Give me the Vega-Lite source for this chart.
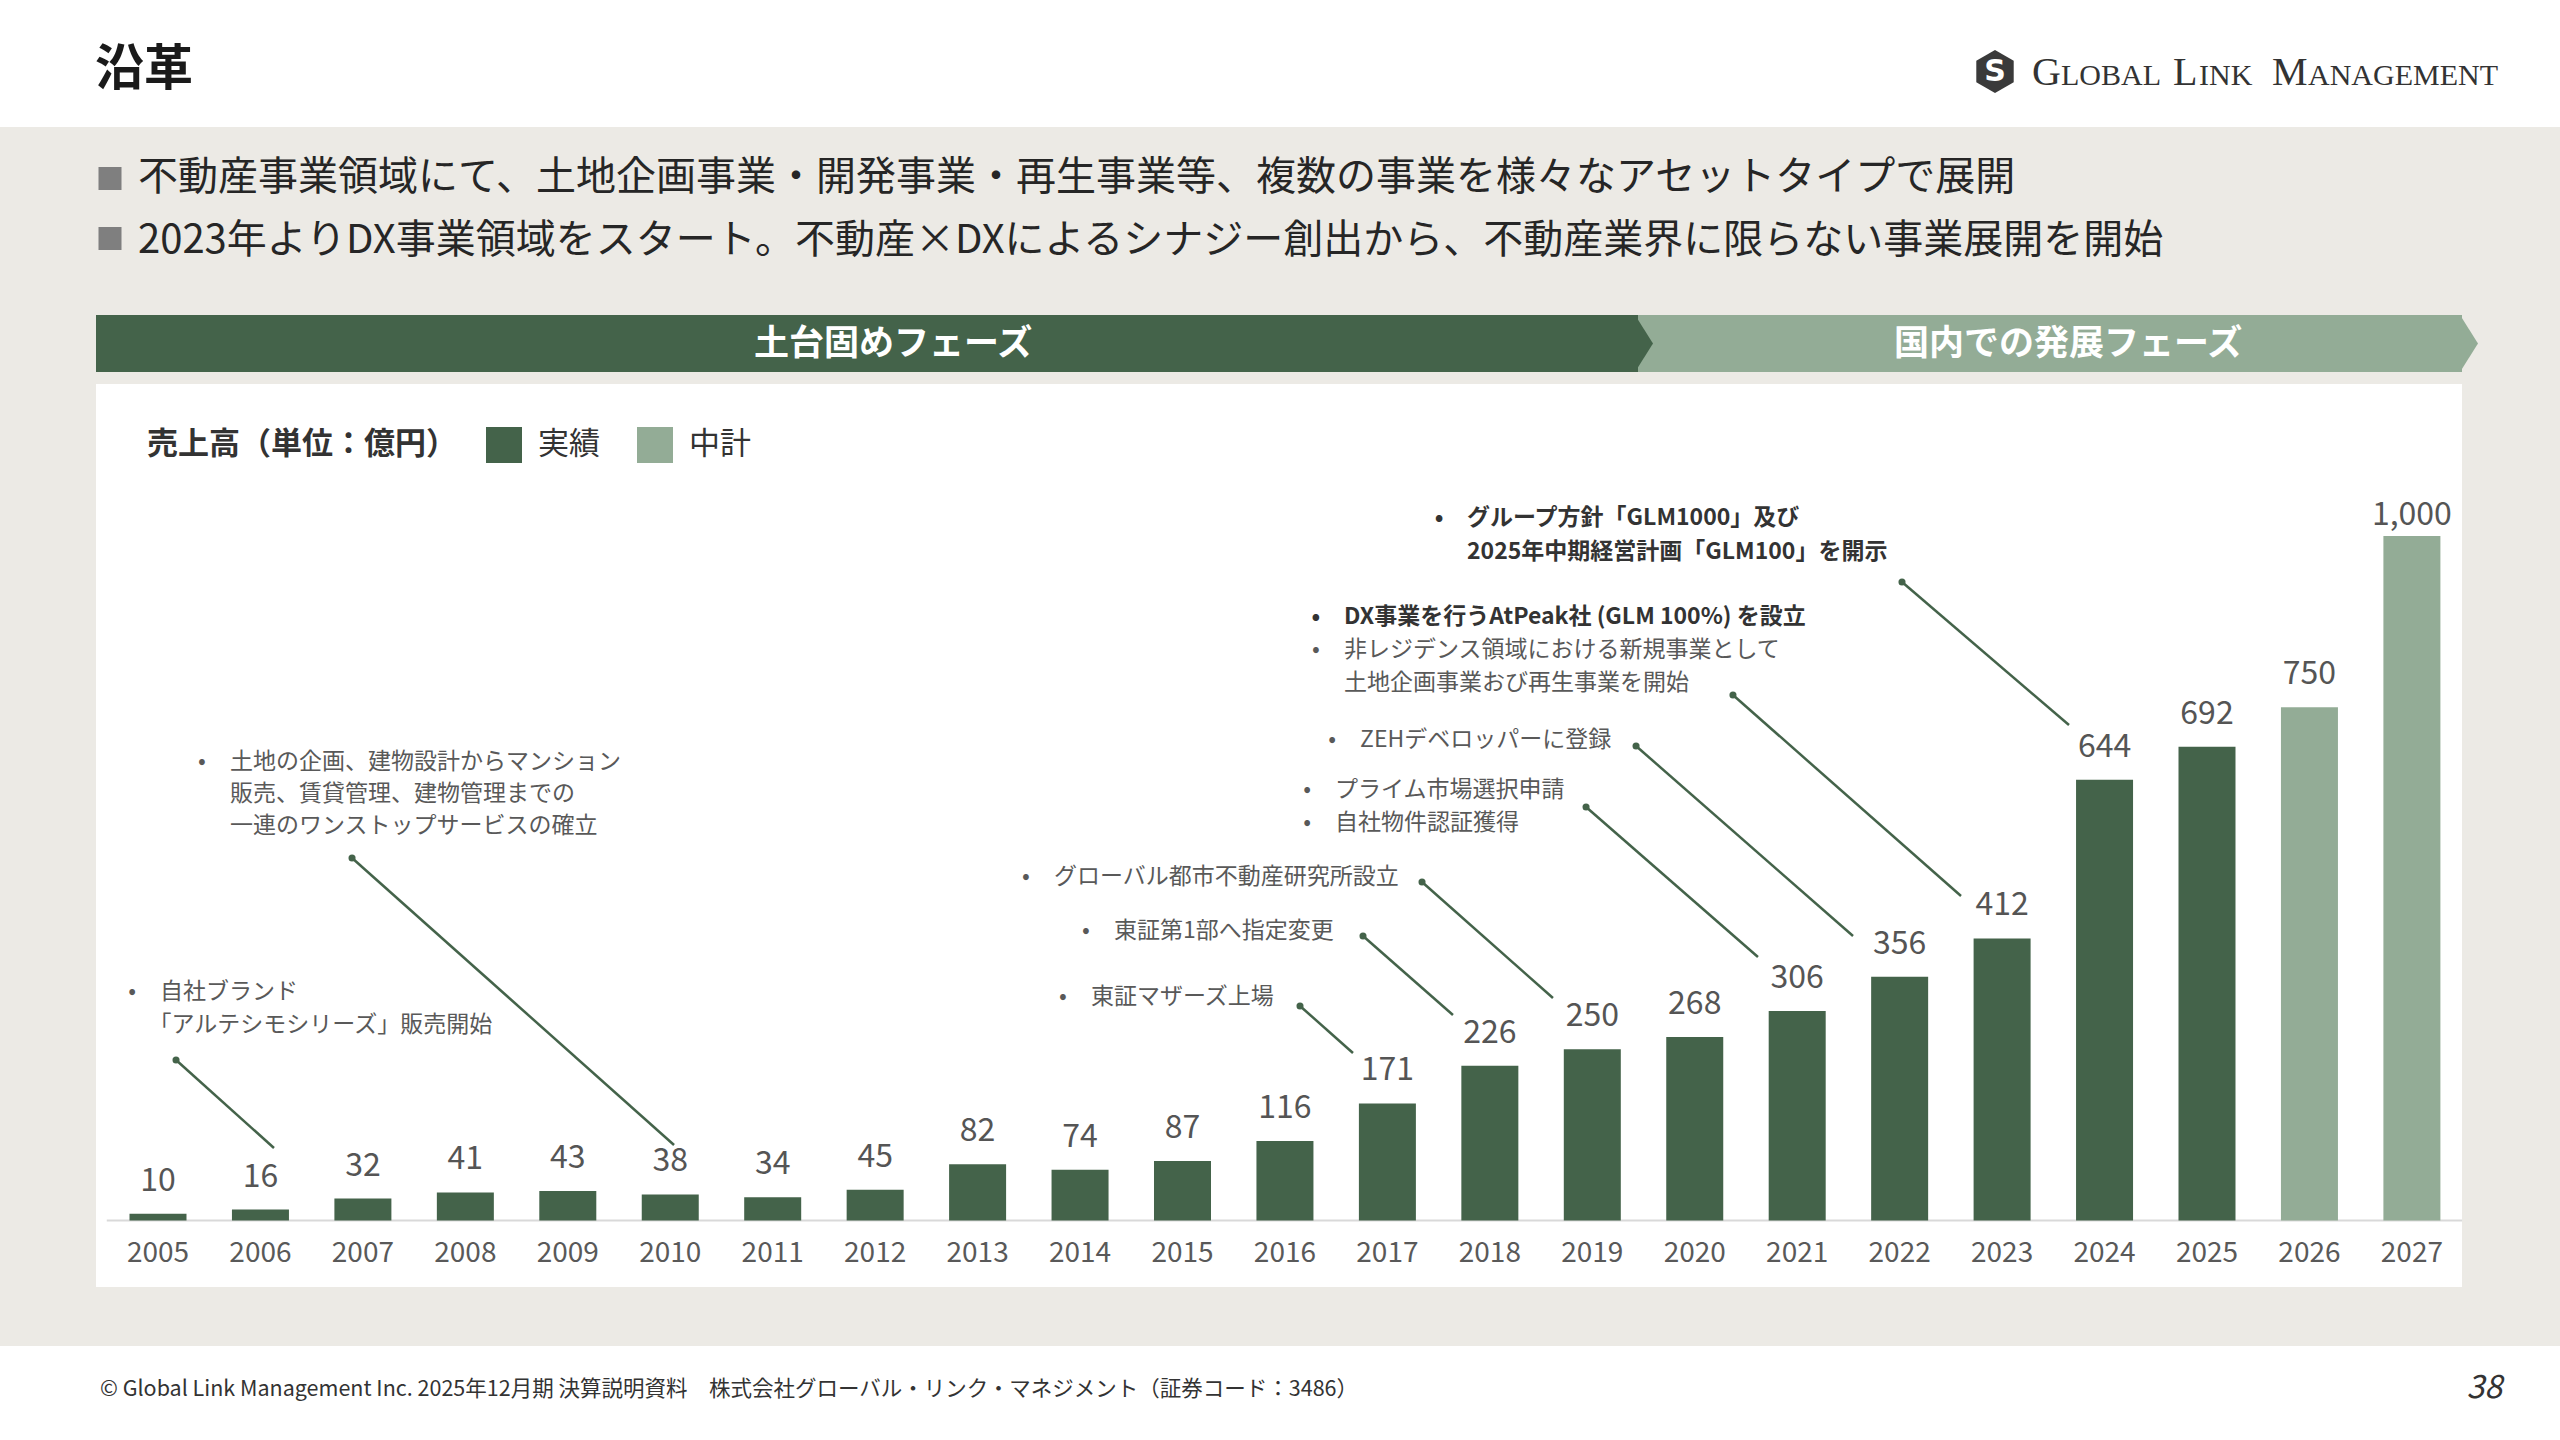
{
  "$schema": "https://vega.github.io/schema/vega-lite/v6.json",
  "width": 2560,
  "height": 1440,
  "autosize": "none",
  "padding": 0,
  "background": "#ECEAE5",
  "config": {"view": {"stroke": null}, "font": "Noto Sans CJK JP", "scale": {"continuousPadding": 0}},
  "datasets": {
    "sales": [
      {"year": 2005, "value": 10, "kind": "実績"},
      {"year": 2006, "value": 16, "kind": "実績"},
      {"year": 2007, "value": 32, "kind": "実績"},
      {"year": 2008, "value": 41, "kind": "実績"},
      {"year": 2009, "value": 43, "kind": "実績"},
      {"year": 2010, "value": 38, "kind": "実績"},
      {"year": 2011, "value": 34, "kind": "実績"},
      {"year": 2012, "value": 45, "kind": "実績"},
      {"year": 2013, "value": 82, "kind": "実績"},
      {"year": 2014, "value": 74, "kind": "実績"},
      {"year": 2015, "value": 87, "kind": "実績"},
      {"year": 2016, "value": 116, "kind": "実績"},
      {"year": 2017, "value": 171, "kind": "実績"},
      {"year": 2018, "value": 226, "kind": "実績"},
      {"year": 2019, "value": 250, "kind": "実績"},
      {"year": 2020, "value": 268, "kind": "実績"},
      {"year": 2021, "value": 306, "kind": "実績"},
      {"year": 2022, "value": 356, "kind": "実績"},
      {"year": 2023, "value": 412, "kind": "実績"},
      {"year": 2024, "value": 644, "kind": "実績"},
      {"year": 2025, "value": 692, "kind": "実績"},
      {"year": 2026, "value": 750, "kind": "中計"},
      {"year": 2027, "value": 1000, "kind": "中計"}
    ],
    "notes": [
      {"year_at": 2005.02, "value_at": 333.8, "t": "自社ブランド", "b": true, "em": false},
      {"year_at": 2004.908, "value_at": 285.6, "t": "「アルテシモシリーズ」販売開始", "b": false, "em": false},
      {"year_at": 2005.703, "value_at": 669.8, "t": "土地の企画、建物設計からマンション", "b": true, "em": false},
      {"year_at": 2005.703, "value_at": 623.1, "t": "販売、賃貸管理、建物管理までの", "b": false, "em": false},
      {"year_at": 2005.703, "value_at": 576.3, "t": "一連のワンストップサービスの確立", "b": false, "em": false},
      {"year_at": 2014.107, "value_at": 326.5, "t": "東証マザーズ上場", "b": true, "em": false},
      {"year_at": 2014.331, "value_at": 422.9, "t": "東証第1部へ指定変更", "b": true, "em": false},
      {"year_at": 2013.746, "value_at": 501.8, "t": "グローバル都市不動産研究所設立", "b": true, "em": false},
      {"year_at": 2016.489, "value_at": 628.9, "t": "プライム市場選択申請", "b": true, "em": false},
      {"year_at": 2016.489, "value_at": 580.7, "t": "自社物件認証獲得", "b": true, "em": false},
      {"year_at": 2016.733, "value_at": 702.0, "t": "ZEHデベロッパーに登録", "b": true, "em": false},
      {"year_at": 2016.576, "value_at": 881.7, "t": "DX事業を行うAtPeak社 (GLM 100%) を設立", "b": true, "em": true},
      {"year_at": 2016.576, "value_at": 833.5, "t": "非レジデンス領域における新規事業として", "b": true, "em": false},
      {"year_at": 2016.576, "value_at": 785.2, "t": "土地企画事業おび再生事業を開始", "b": false, "em": false},
      {"year_at": 2017.777, "value_at": 1026.3, "t": "グループ方針「GLM1000」及び", "b": true, "em": true},
      {"year_at": 2017.777, "value_at": 976.6, "t": "2025年中期経営計画「GLM100」を開示", "b": false, "em": true}
    ],
    "leaders": [
      {"year_from": 2005.176, "value_from": 234.5, "year_to": 2006.132, "value_to": 105.9},
      {"year_from": 2006.894, "value_from": 529.6, "year_to": 2010.037, "value_to": 110.3},
      {"year_from": 2016.147, "value_from": 313.4, "year_to": 2016.664, "value_to": 244.7},
      {"year_from": 2016.762, "value_from": 415.6, "year_to": 2017.64, "value_to": 300.2},
      {"year_from": 2017.338, "value_from": 494.5, "year_to": 2018.616, "value_to": 325.1},
      {"year_from": 2018.939, "value_from": 604.1, "year_to": 2020.617, "value_to": 384.9},
      {"year_from": 2019.427, "value_from": 693.2, "year_to": 2021.545, "value_to": 415.6},
      {"year_from": 2020.373, "value_from": 767.7, "year_to": 2022.599, "value_to": 474.1},
      {"year_from": 2022.023, "value_from": 932.8, "year_to": 2023.653, "value_to": 723.9}
    ]
  },
  "layer": [
    {"data": {"values": [{}]}, "mark": {"type": "rect", "x": 0, "x2": 2560, "y": 0, "y2": 127, "fill": "#FFFFFF"}, "encoding": {}},
    {"data": {"values": [{}]}, "mark": {"type": "rect", "x": 0, "x2": 2560, "y": 1346, "y2": 1440, "fill": "#FFFFFF"}, "encoding": {}},
    {"data": {"values": [{}]}, "mark": {"type": "rect", "x": 96, "x2": 2462, "y": 384, "y2": 1287, "fill": "#FFFFFF"}, "encoding": {}},
    {"data": {"values": [{}]}, "mark": {"type": "rect", "x": 1638, "x2": 2462, "y": 315, "y2": 372, "fill": "#93AC96"}, "encoding": {}},
    {"data": {"values": [{}]}, "mark": {"type": "point", "shape": "M -0.35 -1 L 0.28 0 L -0.35 1 Z", "x": 2470, "y": 343.5, "size": 3249, "filled": true, "fill": "#93AC96", "opacity": 1, "strokeWidth": 0}, "encoding": {}},
    {"data": {"values": [{}]}, "mark": {"type": "rect", "x": 96, "x2": 1638, "y": 315, "y2": 372, "fill": "#44634A"}, "encoding": {}},
    {"data": {"values": [{}]}, "mark": {"type": "point", "shape": "M -0.35 -1 L 0.28 0 L -0.35 1 Z", "x": 1645, "y": 343.5, "size": 3249, "filled": true, "fill": "#44634A", "opacity": 1, "strokeWidth": 0}, "encoding": {}},
    {"data": {"values": [{}]}, "mark": {"type": "text", "text": "土台固めフェーズ", "x": 893, "y": 343.5, "align": "center", "baseline": "middle", "fontSize": 35, "fontWeight": "bold", "fill": "#FFFFFF"}, "encoding": {}},
    {"data": {"values": [{}]}, "mark": {"type": "text", "text": "国内での発展フェーズ", "x": 2068, "y": 343.5, "align": "center", "baseline": "middle", "fontSize": 35, "fontWeight": "bold", "fill": "#FFFFFF"}, "encoding": {}},
    {"data": {"values": [{}]}, "mark": {"type": "text", "text": "沿革", "x": 95, "y": 70, "align": "left", "baseline": "middle", "fontSize": 49, "fontWeight": "bold", "fill": "#1A1A1A"}, "encoding": {}},
    {"data": {"values": [{}]}, "mark": {"type": "point", "shape": "M 0 -1 L 0.87 -0.5 L 0.87 0.5 L 0 1 L -0.87 0.5 L -0.87 -0.5 Z", "x": 1995, "y": 71.5, "size": 1849, "filled": true, "fill": "#3A3A3A", "opacity": 1, "strokeWidth": 0}, "encoding": {}},
    {"data": {"values": [{}]}, "mark": {"type": "text", "text": "S", "x": 1995, "y": 72, "align": "center", "baseline": "middle", "font": "DejaVu Sans", "fontSize": 30, "fontWeight": "bold", "fill": "#FFFFFF"}, "encoding": {}},
    {"data": {"values": [{}]}, "mark": {"type": "text", "text": "G", "x": 2032, "y": 85, "align": "left", "baseline": "alphabetic", "font": "Liberation Serif", "fontSize": 40, "fill": "#333333"}, "encoding": {}},
    {"data": {"values": [{}]}, "mark": {"type": "text", "text": "LOBAL", "x": 2061, "y": 85, "align": "left", "baseline": "alphabetic", "font": "Liberation Serif", "fontSize": 30, "fill": "#333333"}, "encoding": {}},
    {"data": {"values": [{}]}, "mark": {"type": "text", "text": "L", "x": 2173, "y": 85, "align": "left", "baseline": "alphabetic", "font": "Liberation Serif", "fontSize": 40, "fill": "#333333"}, "encoding": {}},
    {"data": {"values": [{}]}, "mark": {"type": "text", "text": "INK", "x": 2199, "y": 85, "align": "left", "baseline": "alphabetic", "font": "Liberation Serif", "fontSize": 30, "fill": "#333333"}, "encoding": {}},
    {"data": {"values": [{}]}, "mark": {"type": "text", "text": "M", "x": 2272, "y": 85, "align": "left", "baseline": "alphabetic", "font": "Liberation Serif", "fontSize": 40, "fill": "#333333"}, "encoding": {}},
    {"data": {"values": [{}]}, "mark": {"type": "text", "text": "ANAGEMENT", "x": 2308, "y": 85, "align": "left", "baseline": "alphabetic", "font": "Liberation Serif", "fontSize": 30, "fill": "#333333"}, "encoding": {}},
    {"data": {"values": [{}]}, "mark": {"type": "point", "shape": "square", "x": 110, "y": 178.5, "size": 529, "filled": true, "fill": "#7F7F7F", "opacity": 1, "strokeWidth": 0}, "encoding": {}},
    {"data": {"values": [{}]}, "mark": {"type": "point", "shape": "square", "x": 110, "y": 238.5, "size": 529, "filled": true, "fill": "#7F7F7F", "opacity": 1, "strokeWidth": 0}, "encoding": {}},
    {"data": {"values": [{}]}, "mark": {"type": "text", "text": "不動産事業領域にて、土地企画事業・開発事業・再生事業等、複数の事業を様々なアセットタイプで展開", "x": 138, "y": 178, "align": "left", "baseline": "middle", "fontSize": 40, "fill": "#262626"}, "encoding": {}},
    {"data": {"values": [{}]}, "mark": {"type": "text", "text": "2023年よりDX事業領域をスタート。不動産×DXによるシナジー創出から、不動産業界に限らない事業展開を開始", "x": 138, "y": 241, "align": "left", "baseline": "middle", "fontSize": 40, "fill": "#262626"}, "encoding": {}},
    {"data": {"values": [{}]}, "mark": {"type": "text", "text": "© Global Link Management Inc. 2025年12月期 決算説明資料　株式会社グローバル・リンク・マネジメント（証券コード：3486）", "x": 100, "y": 1390, "align": "left", "baseline": "middle", "fontSize": 21.5, "fill": "#333333"}, "encoding": {}},
    {"data": {"values": [{}]}, "mark": {"type": "text", "text": "38", "x": 2502, "y": 1388, "align": "right", "baseline": "middle", "fontSize": 32, "fontStyle": "italic", "fill": "#333333"}, "encoding": {}},
    {
      "data": {"values": [{}]},
      "mark": {"type": "rule", "stroke": "#D9D9D9", "strokeWidth": 2},
      "encoding": {
        "x": {"datum": 2004.5, "type": "quantitative", "scale": {"domain": [2003.4578, 2028.4456], "nice": false, "zero": false, "padding": 0}, "axis": null},
        "x2": {"datum": 2027.49},
        "y": {"datum": 0, "type": "quantitative", "scale": {"domain": [-320.7, 1783.1], "nice": false, "zero": false}, "axis": null}
      }
    },
    {
      "data": {"name": "sales"},
      "mark": {"type": "bar", "orient": "vertical", "width": 57},
      "encoding": {
        "x": {"field": "year", "type": "quantitative", "scale": {"domain": [2003.4578, 2028.4456], "nice": false, "zero": false, "padding": 0}, "axis": null},
        "y": {"field": "value", "type": "quantitative", "scale": {"domain": [-320.7, 1783.1], "nice": false, "zero": false}, "axis": null},
        "y2": {"datum": 0},
        "color": {
          "field": "kind", "type": "nominal",
          "scale": {"domain": ["実績", "中計"], "range": ["#44634A", "#93AC96"]},
          "legend": {
            "title": "売上高（単位：億円）", "orient": "none", "legendX": 147, "legendY": 427,
            "direction": "horizontal", "titleOrient": "left", "titleLimit": 800,
            "titleFont": "Noto Sans CJK JP", "titleFontSize": 31, "titleFontWeight": "bold", "titleColor": "#333333", "titlePadding": 29,
            "labelFont": "Noto Sans CJK JP", "labelFontSize": 31, "labelColor": "#333333", "labelOffset": 16,
            "symbolType": "square", "symbolSize": 1296, "symbolStrokeWidth": 0, "symbolOpacity": 1,
            "columnPadding": 37, "padding": 0
          }
        }
      }
    },
    {
      "data": {"name": "sales"},
      "transform": [{"filter": "datum.value < 1000"}],
      "mark": {"type": "text", "dy": -23, "baseline": "alphabetic", "align": "center", "fontSize": 32, "fill": "#555555"},
      "encoding": {
        "x": {"field": "year", "type": "quantitative", "scale": {"domain": [2003.4578, 2028.4456], "nice": false, "zero": false, "padding": 0}, "axis": null},
        "y": {"field": "value", "type": "quantitative", "scale": {"domain": [-320.7, 1783.1], "nice": false, "zero": false}, "axis": null},
        "text": {"field": "value", "type": "quantitative", "format": ","}
      }
    },
    {
      "data": {"name": "sales"},
      "transform": [{"filter": "datum.value >= 1000"}],
      "mark": {"type": "text", "dy": -11, "baseline": "alphabetic", "align": "center", "fontSize": 32, "fill": "#555555"},
      "encoding": {
        "x": {"field": "year", "type": "quantitative", "scale": {"domain": [2003.4578, 2028.4456], "nice": false, "zero": false, "padding": 0}, "axis": null},
        "y": {"field": "value", "type": "quantitative", "scale": {"domain": [-320.7, 1783.1], "nice": false, "zero": false}, "axis": null},
        "text": {"field": "value", "type": "quantitative", "format": ","}
      }
    },
    {
      "data": {"name": "sales"},
      "mark": {"type": "text", "dy": 33.5, "baseline": "middle", "align": "center", "fontSize": 28, "fill": "#595959"},
      "encoding": {
        "x": {"field": "year", "type": "quantitative", "scale": {"domain": [2003.4578, 2028.4456], "nice": false, "zero": false, "padding": 0}, "axis": null},
        "y": {"datum": 0, "type": "quantitative", "scale": {"domain": [-320.7, 1783.1], "nice": false, "zero": false}, "axis": null},
        "text": {"field": "year", "type": "nominal"}
      }
    },
    {
      "data": {"name": "leaders"},
      "mark": {"type": "rule", "stroke": "#44634A", "strokeWidth": 2.5},
      "encoding": {
        "x": {"field": "year_from", "type": "quantitative", "scale": {"domain": [2003.4578, 2028.4456], "nice": false, "zero": false, "padding": 0}, "axis": null},
        "y": {"field": "value_from", "type": "quantitative", "scale": {"domain": [-320.7, 1783.1], "nice": false, "zero": false}, "axis": null},
        "x2": {"field": "year_to"},
        "y2": {"field": "value_to"}
      }
    },
    {
      "data": {"name": "leaders"},
      "mark": {"type": "circle", "size": 50, "opacity": 1, "color": "#44634A"},
      "encoding": {
        "x": {"field": "year_from", "type": "quantitative", "scale": {"domain": [2003.4578, 2028.4456], "nice": false, "zero": false, "padding": 0}, "axis": null},
        "y": {"field": "value_from", "type": "quantitative", "scale": {"domain": [-320.7, 1783.1], "nice": false, "zero": false}, "axis": null}
      }
    },
    {
      "data": {"name": "notes"},
      "transform": [{"filter": "!datum.em"}],
      "mark": {"type": "text", "align": "left", "baseline": "middle", "fontSize": 23, "fill": "#595959"},
      "encoding": {
        "x": {"field": "year_at", "type": "quantitative", "scale": {"domain": [2003.4578, 2028.4456], "nice": false, "zero": false, "padding": 0}, "axis": null},
        "y": {"field": "value_at", "type": "quantitative", "scale": {"domain": [-320.7, 1783.1], "nice": false, "zero": false}, "axis": null},
        "text": {"field": "t", "type": "nominal"}
      }
    },
    {
      "data": {"name": "notes"},
      "transform": [{"filter": "datum.em"}],
      "mark": {"type": "text", "align": "left", "baseline": "middle", "fontSize": 23, "fontWeight": "bold", "fill": "#333333"},
      "encoding": {
        "x": {"field": "year_at", "type": "quantitative", "scale": {"domain": [2003.4578, 2028.4456], "nice": false, "zero": false, "padding": 0}, "axis": null},
        "y": {"field": "value_at", "type": "quantitative", "scale": {"domain": [-320.7, 1783.1], "nice": false, "zero": false}, "axis": null},
        "text": {"field": "t", "type": "nominal"}
      }
    },
    {
      "data": {"name": "notes"},
      "transform": [{"filter": "datum.b && !datum.em"}],
      "mark": {"type": "text", "text": "•", "dx": -28, "align": "center", "baseline": "middle", "fontSize": 23, "fill": "#595959"},
      "encoding": {
        "x": {"field": "year_at", "type": "quantitative", "scale": {"domain": [2003.4578, 2028.4456], "nice": false, "zero": false, "padding": 0}, "axis": null},
        "y": {"field": "value_at", "type": "quantitative", "scale": {"domain": [-320.7, 1783.1], "nice": false, "zero": false}, "axis": null}
      }
    },
    {
      "data": {"name": "notes"},
      "transform": [{"filter": "datum.b && datum.em"}],
      "mark": {"type": "text", "text": "•", "dx": -28, "align": "center", "baseline": "middle", "fontSize": 23, "fontWeight": "bold", "fill": "#333333"},
      "encoding": {
        "x": {"field": "year_at", "type": "quantitative", "scale": {"domain": [2003.4578, 2028.4456], "nice": false, "zero": false, "padding": 0}, "axis": null},
        "y": {"field": "value_at", "type": "quantitative", "scale": {"domain": [-320.7, 1783.1], "nice": false, "zero": false}, "axis": null}
      }
    }
  ]
}
